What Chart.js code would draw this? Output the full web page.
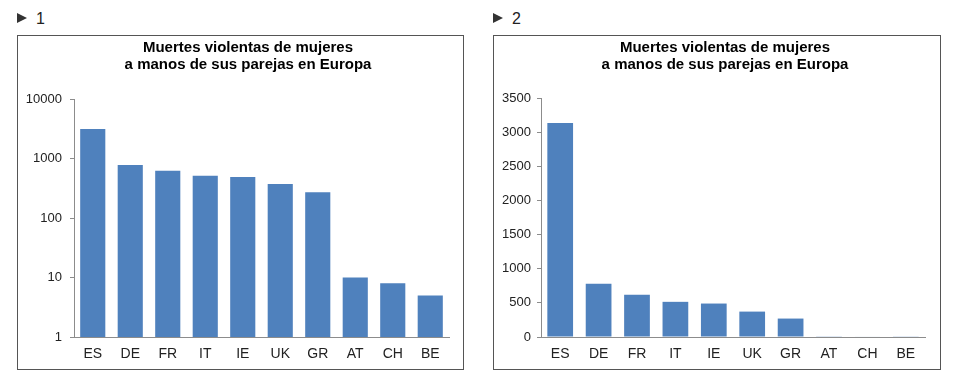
<!DOCTYPE html>
<html>
<head>
<meta charset="utf-8">
<script src="https://cdn.jsdelivr.net/npm/chart.js@4"></script>
<style>
    body { margin: 0; background: #fff; font-family: "Liberation Sans", Arial, sans-serif; }
    .tag { position: absolute; top: 10px; font-size: 16px; color: #222; }
    .tri { position: absolute; top: 13px; width: 0; height: 0;
           border-left: 10px solid #333; border-top: 5px solid transparent; border-bottom: 5px solid transparent; }
    .box { position: absolute; top: 35px; height: 335px; box-sizing: border-box; border: 1px solid #555; }
    .inner { position: relative; width: 100%; height: 100%; }
</style>
</head>
<body>
<div class="tri" style="left:17px"></div><div class="tag" style="left:36px">1</div>
<div class="tri" style="left:493px"></div><div class="tag" style="left:512px">2</div>

<div class="box" style="left:17px;width:447px"><div class="inner"><canvas id="logChart"></canvas></div></div>
<div class="box" style="left:493px;width:448px"><div class="inner"><canvas id="linChart"></canvas></div></div>

<script>
const countries = ['ES', 'DE', 'FR', 'IT', 'IE', 'UK', 'GR', 'AT', 'CH', 'BE'];
const deaths = [3135, 780, 620, 515, 490, 372, 270, 10, 8, 5];
const logTicks = [1, 10, 100, 1000, 10000];
const linTicks = [0, 500, 1000, 1500, 2000, 2500, 3000, 3500];
const chartTitle = ['Muertes violentas de mujeres', 'a manos de sus parejas en Europa'];

const barColor = '#4f81bd';
const axisColor = '#8c8c8c';
const textColor = '#222';
const font = 'Liberation Sans';

// the excel title sits a bit right of the box centre, so draw it by hand
const titlePlugin = {
    id: 'offsetTitle',
    afterDraw(chart, args, opts) {
        const ctx = chart.ctx;
        ctx.save();
        ctx.font = 'bold 15px "' + font + '"';
        ctx.fillStyle = '#000';
        ctx.textAlign = 'center';
        ctx.textBaseline = 'middle';
        chartTitle.forEach((line, i) => ctx.fillText(line, opts.x, 12 + i * 17));
        ctx.restore();
    },
};

function makeChart(id, yScale, yWidth, rightPad, topPad, labelGap, titleX) {
    new Chart(document.getElementById(id), {
        type: 'bar',
        data: {
            labels: countries,
            datasets: [{ data: deaths, backgroundColor: barColor, borderWidth: 0,
                         categoryPercentage: 1, barPercentage: 0.67 }],
        },
        options: {
            responsive: true,
            maintainAspectRatio: false,
            animation: false,
            layout: { padding: { left: 0, right: rightPad, top: topPad, bottom: 0 } },
            plugins: {
                legend: { display: false },
                tooltip: { enabled: false },
                offsetTitle: { x: titleX },
            },
            scales: {
                x: {
                    grid: { display: false },
                    border: { color: axisColor, z: 1 },
                    ticks: { color: textColor, font: { family: font, size: 14 }, padding: 1 },
                    afterFit(s) { s.height = 32; },
                },
                y: Object.assign({
                    grid: { drawOnChartArea: false, tickLength: 4, color: axisColor },
                    border: { color: axisColor },
                    ticks: { color: textColor, font: { family: font, size: 13 }, padding: labelGap,
                             callback: v => String(v) },
                    afterFit(s) { s.width = yWidth; },
                }, yScale),
            },
        },
        plugins: [titlePlugin],
    });
}

makeChart('logChart', {
    type: 'logarithmic',
    min: 1,
    max: 10000,
    afterBuildTicks(s) { s.ticks = logTicks.map(v => ({ value: v })); },
}, 56, 14, 63, 8, 230);

makeChart('linChart', {
    type: 'linear',
    min: 0,
    max: 3500,
    afterBuildTicks(s) { s.ticks = linTicks.map(v => ({ value: v })); },
}, 47, 15, 62, 6, 231);
</script>
</body>
</html>
